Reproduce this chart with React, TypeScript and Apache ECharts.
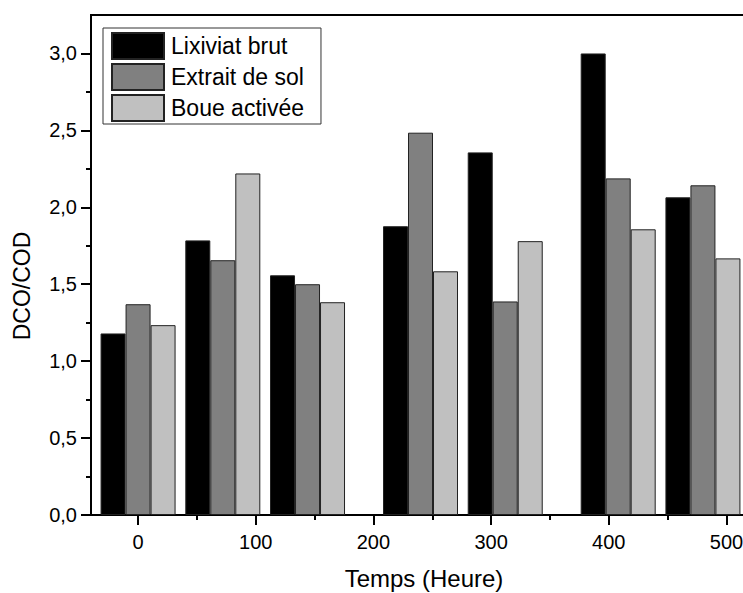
import React, { useEffect, useRef } from "react";
import * as echarts from "echarts";

const times = [0, 72, 144, 240, 312, 408, 480];
const lixiviatBrut = [1.18, 1.785, 1.558, 1.877, 2.357, 3.0, 2.065];
const extraitDeSol = [1.37, 1.656, 1.5, 2.485, 1.388, 2.188, 2.143];
const boueActivee = [1.234, 2.22, 1.383, 1.584, 1.78, 1.857, 1.668];

const seriesNames = ["Lixiviat brut", "Extrait de sol", "Boue activée"];
const xAxisTitle = "Temps (Heure)";
const yAxisTitle = "DCO/COD";
const xMajorTicks = [0, 100, 200, 300, 400, 500];
const xMinorTicks = [50, 150, 250, 350, 450];
const yMajorTicks = [0, 0.5, 1.0, 1.5, 2.0, 2.5, 3.0];
const yMinorTicks = [0.25, 0.75, 1.25, 1.75, 2.25, 2.75];

const FONT = "'Liberation Sans', Arial, Helvetica, sans-serif";

export default function App() {
  const ref = useRef<HTMLDivElement>(null);

  useEffect(() => {
    if (!ref.current) return;
    const chart = echarts.init(ref.current, null, { renderer: "svg" });
    const fills = ["#000000", "#808080", "#c0c0c0"];
    const datasets = [lixiviatBrut, extraitDeSol, boueActivee];

    chart.setOption({
      animation: false,
      backgroundColor: "#ffffff",
      textStyle: { fontFamily: FONT },
      grid: {
        left: 91,
        top: 15,
        width: 659,
        height: 500,
        show: true,
        borderColor: "#000",
        borderWidth: 2,
        backgroundColor: "transparent",
        containLabel: false,
        outerBoundsMode: "none",
      },
      graphic: [
        {
          type: "text",
          x: 424,
          y: 578,
          style: {
            text: xAxisTitle,
            fontFamily: FONT,
            fontSize: 24,
            fill: "#000",
            align: "center",
            verticalAlign: "middle",
          },
        },
        {
          type: "text",
          x: 22,
          y: 286,
          rotation: Math.PI / 2,
          style: {
            text: yAxisTitle,
            fontFamily: FONT,
            fontSize: 23,
            fill: "#000",
            align: "center",
            verticalAlign: "middle",
          },
        },
      ],
      legend: {
        left: 103,
        top: 28,
        orient: "vertical",
        itemWidth: 52,
        itemHeight: 26,
        itemGap: 3,
        padding: [4, 17, 2, 8],
        borderColor: "#333",
        borderWidth: 1,
        backgroundColor: "#fff",
        icon: "rect",
        selectedMode: false,
        textStyle: {
          fontFamily: FONT,
          fontSize: 23,
          color: "#000",
          lineHeight: 26,
          padding: [0, 0, 0, 2],
        },
        data: seriesNames,
      },
      xAxis: [
        {
          type: "value",
          min: -40,
          max: 520,
          position: "bottom",
          axisLine: { show: true, onZero: false, lineStyle: { color: "#000", width: 2 } },
          axisTick: {
            show: true,
            inside: false,
            length: 10,
            customValues: xMajorTicks,
            lineStyle: { color: "#000", width: 2 },
          },
          axisLabel: {
            show: true,
            customValues: xMajorTicks,
            margin: 17,
            fontSize: 20,
            fontFamily: FONT,
            color: "#000",
          },
          splitLine: { show: false },
        },
        {
          type: "value",
          min: -40,
          max: 520,
          position: "bottom",
          axisLine: { show: false, onZero: false },
          axisTick: {
            show: true,
            inside: false,
            length: 5,
            customValues: xMinorTicks,
            lineStyle: { color: "#000", width: 2 },
          },
          axisLabel: { show: false },
          splitLine: { show: false },
        },
      ],
      yAxis: [
        {
          type: "value",
          min: 0,
          max: 3.25,
          position: "left",
          axisLine: { show: true, onZero: false, lineStyle: { color: "#000", width: 2 } },
          axisTick: {
            show: true,
            inside: false,
            length: 10,
            customValues: yMajorTicks,
            lineStyle: { color: "#000", width: 2 },
          },
          axisLabel: {
            show: true,
            customValues: yMajorTicks,
            margin: 14,
            fontSize: 20,
            fontFamily: FONT,
            color: "#000",
            formatter: (v: number) => v.toFixed(1).replace(".", ","),
          },
          splitLine: { show: false },
        },
        {
          type: "value",
          min: 0,
          max: 3.25,
          position: "left",
          offset: 0,
          axisLine: { show: false, onZero: false },
          axisTick: {
            show: true,
            inside: false,
            length: 5,
            customValues: yMinorTicks,
            lineStyle: { color: "#000", width: 2 },
          },
          axisLabel: { show: false },
          splitLine: { show: false },
        },
      ],
      series: seriesNames.map((name, i) => ({
        name,
        type: "bar",
        xAxisIndex: 0,
        yAxisIndex: 0,
        barWidth: 25,
        barGap: "0%",
        itemStyle: { color: fills[i], borderColor: "#222", borderWidth: 1 },
        data: times.map((t, j) => [t, datasets[i][j]]),
      })),
    });

    return () => chart.dispose();
  }, []);

  return (
    <div
      ref={ref}
      style={{ position: "fixed", left: 0, top: 0, width: 743, height: 593, background: "#fff" }}
    />
  );
}
